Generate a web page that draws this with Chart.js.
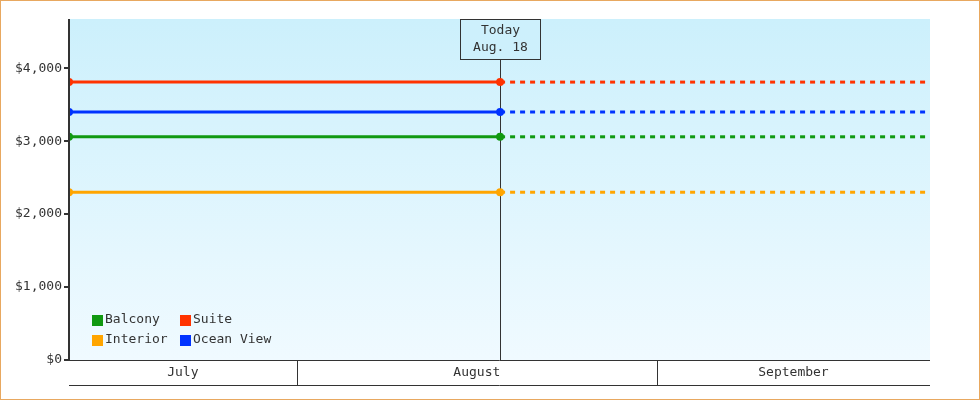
<!DOCTYPE html>
<html>
<head>
<meta charset="utf-8">
<script src="https://cdn.jsdelivr.net/npm/chart.js@4"></script>
<style>
  body { margin: 0; background: #fff; }
  #wrap { width: 980px; height: 400px; box-sizing: border-box; border: 1px solid #e8a860; position: relative; }
  canvas { display: block; }
</style>
</head>
<body>
<div id="wrap"><canvas id="chart" width="978" height="398"></canvas></div>
<script>
// day offsets: 0 = July 1
const seriesNames = ['Balcony', 'Suite', 'Interior', 'Ocean View'];
const seriesPrices = [3060, 3810, 2300, 3400];
const seriesColors = ['#119911', '#ff3300', '#ffa500', '#0033ff'];
const months = ['July', 'August', 'September'];
const monthStarts = [0, 31, 62, 92];
const startDay = 11.4;
const todayDay = 48.5;
const endDay = 85.5;
const todayLabel = ['Today', 'Aug. 18'];
const yTicks = [0, 1000, 2000, 3000, 4000];
const yMax = 4675;

const FONT = '"DejaVu Sans Mono", monospace';
Chart.defaults.font.family = FONT;
Chart.defaults.font.size = 13;
Chart.defaults.color = '#333';

const datasets = [];
seriesNames.forEach((name, i) => {
  datasets.push({
    label: name,
    data: [{ x: startDay, y: seriesPrices[i] }, { x: todayDay, y: seriesPrices[i] }],
    borderColor: seriesColors[i], backgroundColor: seriesColors[i],
    borderWidth: 3, pointRadius: 4, pointHoverRadius: 4, pointBorderWidth: 0
  });
  datasets.push({
    label: name + ' forecast',
    data: [{ x: todayDay, y: seriesPrices[i] }, { x: endDay, y: seriesPrices[i] }],
    borderColor: seriesColors[i], borderWidth: 3, borderDash: [5, 5],
    pointRadius: 0
  });
});

const decor = {
  id: 'decor',
  beforeDatasetsDraw(chart) {
    const { ctx, chartArea: a, scales: { x } } = chart;
    ctx.save();
    const g = ctx.createLinearGradient(0, a.top, 0, a.bottom);
    g.addColorStop(0, '#ccf0fc');
    g.addColorStop(1, '#f0faff');
    ctx.fillStyle = g;
    ctx.fillRect(a.left, a.top, a.right - a.left, a.bottom - a.top);
    // today line
    const tx = Math.round(x.getPixelForValue(todayDay)) + 0.5;
    ctx.strokeStyle = '#333';
    ctx.lineWidth = 1;
    ctx.beginPath(); ctx.moveTo(tx, a.top + 40); ctx.lineTo(tx, a.bottom); ctx.stroke();
    ctx.restore();
  },
  afterDraw(chart) {
    const { ctx, chartArea: a, scales: { x } } = chart;
    ctx.save();
    ctx.font = '13px ' + FONT;
    ctx.textAlign = 'center';
    ctx.textBaseline = 'middle';
    // today box
    const tx = Math.round(x.getPixelForValue(todayDay)) + 0.5;
    ctx.fillStyle = '#cdf0fc';
    ctx.strokeStyle = '#333';
    ctx.fillRect(tx - 40, a.top, 80, 40);
    ctx.strokeRect(tx - 40, a.top + 0.5, 80, 40);
    ctx.fillStyle = '#333';
    ctx.fillText(todayLabel[0], tx, a.top + 12);
    ctx.fillText(todayLabel[1], tx, a.top + 29);
    // axis lines
    ctx.lineWidth = 2;
    ctx.beginPath(); ctx.moveTo(a.left, a.top); ctx.lineTo(a.left, a.bottom); ctx.stroke();
    ctx.lineWidth = 1;
    ctx.beginPath();
    ctx.moveTo(a.left, a.bottom + 0.5); ctx.lineTo(a.right, a.bottom + 0.5);
    ctx.moveTo(a.left, a.bottom + 25.5); ctx.lineTo(a.right, a.bottom + 25.5);
    ctx.stroke();
    // month band
    months.forEach((m, i) => {
      const l = Math.max(x.getPixelForValue(monthStarts[i]), a.left);
      const r = Math.min(x.getPixelForValue(monthStarts[i + 1]), a.right);
      if (i > 0) {
        const px = Math.round(l) + 0.5;
        ctx.beginPath(); ctx.moveTo(px, a.bottom); ctx.lineTo(px, a.bottom + 25); ctx.stroke();
      }
      ctx.fillText(m, (l + r) / 2, a.bottom + 13);
    });
    // legend
    const cols = [a.left + 23, a.left + 111];
    seriesNames.forEach((name, i) => {
      const cx = cols[i % 2];
      const cy = a.bottom - 40 + Math.floor(i / 2) * 20;
      ctx.fillStyle = seriesColors[i];
      ctx.fillRect(cx, cy - 5, 11, 11);
      ctx.fillStyle = '#333';
      ctx.textAlign = 'left';
      ctx.fillText(name, cx + 13, cy);
    });
    ctx.restore();
  }
};

new Chart(document.getElementById('chart'), {
  type: 'line',
  data: { datasets },
  options: {
    responsive: false,
    animation: false,
    devicePixelRatio: 1,
    layout: { padding: { top: 18, right: 49, bottom: 39, left: 0 } },
    plugins: { legend: { display: false }, tooltip: { enabled: false } },
    scales: {
      x: { type: 'linear', min: startDay, max: endDay, display: false },
      y: {
        min: 0, max: yMax,
        afterBuildTicks: s => { s.ticks = yTicks.map(v => ({ value: v })); },
        afterFit: s => { s.width = 68; },
        grid: { drawOnChartArea: false, tickLength: 5, color: '#333', lineWidth: 2 },
        border: { display: false },
        ticks: { padding: 2, callback: v => '$' + v.toLocaleString('en-US') }
      }
    }
  },
  plugins: [decor]
});
</script>
</body>
</html>
